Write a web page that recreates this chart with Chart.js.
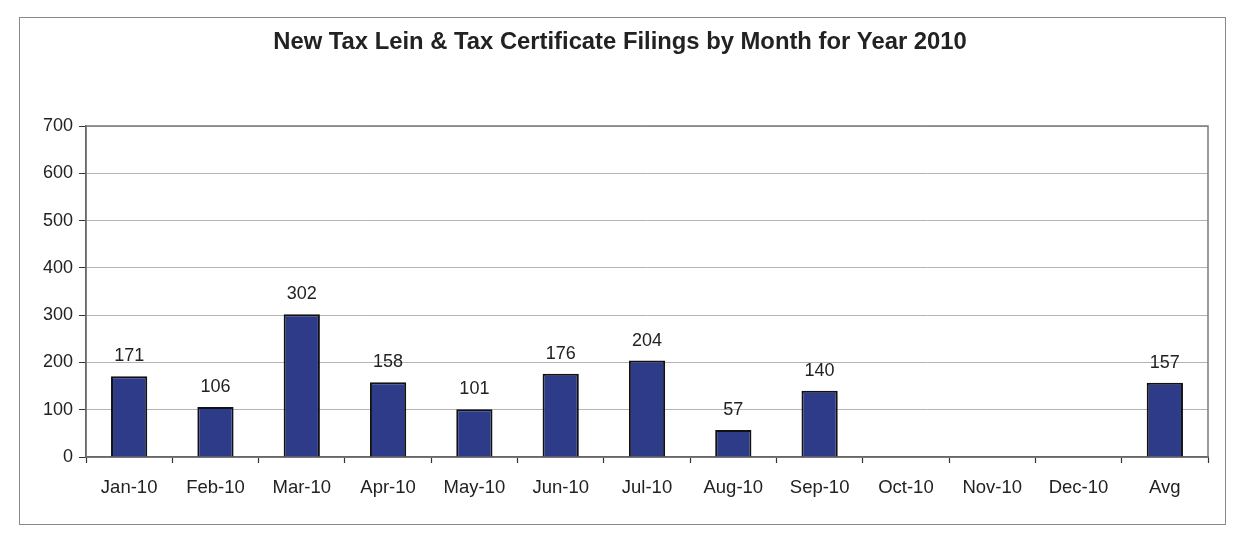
<!DOCTYPE html>
<html>
<head>
<meta charset="utf-8">
<script src="https://cdn.jsdelivr.net/npm/chart.js@4"></script>
<style>
  html, body { margin: 0; padding: 0; background: #fff; }
  #wrap { position: relative; width: 1240px; height: 533px; }
  #frame { position: absolute; left: 19px; top: 17px; width: 1207px; height: 508px; border: 1px solid #8a8a8a; box-sizing: border-box; }
  canvas { position: absolute; left: 0; top: 0; }
</style>
</head>
<body>
<div id="wrap">
  <div id="frame"></div>
  <canvas id="c" width="1240" height="533"></canvas>
</div>
<script>
const categories = ['Jan-10','Feb-10','Mar-10','Apr-10','May-10','Jun-10','Jul-10','Aug-10','Sep-10','Oct-10','Nov-10','Dec-10','Avg'];
const filings = [171, 106, 302, 158, 101, 176, 204, 57, 140, null, null, null, 157];
const yTicks = [0, 100, 200, 300, 400, 500, 600, 700];
const titleText = 'New Tax Lein & Tax Certificate Filings by Month for Year 2010';

const FONT = "Arial, 'Liberation Sans', sans-serif";

const titlePlugin = {
  id: 'customTitle',
  afterDraw(chart) {
    const ctx = chart.ctx;
    ctx.save();
    ctx.font = 'bold 23.8px ' + FONT;
    ctx.fillStyle = '#222';
    ctx.textAlign = 'center';
    ctx.textBaseline = 'alphabetic';
    ctx.fillText(titleText, 620, 49);
    ctx.restore();
  }
};

const labelPlugin = {
  id: 'barLabels',
  afterDatasetsDraw(chart) {
    const ctx = chart.ctx;
    const meta = chart.getDatasetMeta(0);
    ctx.save();
    ctx.font = '18px ' + FONT;
    ctx.fillStyle = '#222';
    ctx.textAlign = 'center';
    ctx.textBaseline = 'bottom';
    meta.data.forEach((bar, i) => {
      const v = chart.data.datasets[0].data[i];
      if (v === null || v === undefined) return;
      ctx.fillText(String(v), bar.x, bar.y - 11);
    });
    ctx.restore();
  }
};

const borderPlugin = {
  id: 'plotBorder',
  beforeDatasetsDraw(chart) {
    const a = chart.chartArea;
    const ctx = chart.ctx;
    ctx.save();
    ctx.strokeStyle = '#7a7a7a';
    ctx.lineWidth = 1.5;
    ctx.strokeRect(a.left, a.top, a.right - a.left, a.bottom - a.top);
    ctx.restore();
  }
};

new Chart(document.getElementById('c'), {
  type: 'bar',
  data: {
    labels: categories,
    datasets: [{
      data: filings,
      backgroundColor: '#2e3b88',
      borderColor: '#111',
      borderWidth: 2,
      categoryPercentage: 1,
      barPercentage: 0.42
    }]
  },
  options: {
    responsive: false,
    animation: false,
    devicePixelRatio: 1,
    layout: { padding: { left: 0, right: 32, top: 126, bottom: 0 } },
    plugins: {
      legend: { display: false },
      tooltip: { enabled: false },
      title: { display: false }
    },
    scales: {
      x: {
        offset: true,
        grid: {
          offset: true,
          drawOnChartArea: false,
          drawTicks: true,
          tickLength: 6,
          tickColor: '#333',
          tickWidth: 1.2
        },
        border: { display: true, color: '#333', width: 1.5 },
        ticks: {
          color: '#222',
          font: { family: FONT, size: 18.5 },
          padding: 14,
          maxRotation: 0,
          autoSkip: false
        },
        afterFit(s) { s.height = 76; }
      },
      y: {
        min: 0,
        max: 700,
        afterBuildTicks(s) { s.ticks = yTicks.map(v => ({ value: v })); },
        grid: {
          color: '#b4b4b4',
          lineWidth: 1,
          drawTicks: true,
          tickLength: 7,
          tickColor: '#333'
        },
        border: { display: true, color: '#333', width: 1.5 },
        ticks: {
          color: '#222',
          font: { family: FONT, size: 18 },
          padding: 6
        },
        afterFit(s) { s.width = 86; }
      }
    }
  },
  plugins: [borderPlugin, labelPlugin, titlePlugin]
});
</script>
</body>
</html>
